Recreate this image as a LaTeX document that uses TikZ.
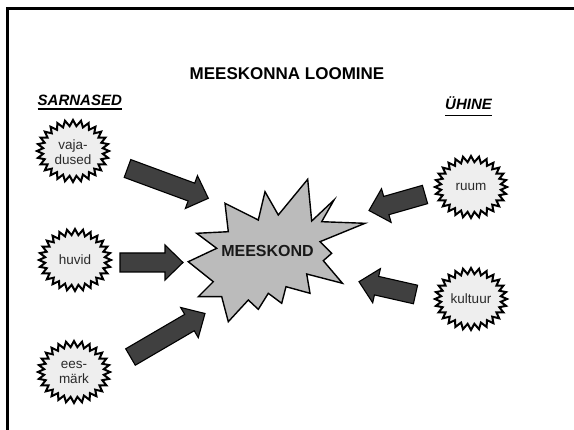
\documentclass[tikz,border=0pt]{standalone}
\usepackage{fontspec}
\setmainfont{Liberation Sans}
\usetikzlibrary{calc}
\definecolor{arrowgray}{HTML}{404040}
\definecolor{sealfill}{HTML}{EEEEEE}
\definecolor{starfill}{HTML}{BBBBBB}
\definecolor{labelgray}{HTML}{2A2A2A}

\newcommand{\sealat}[2]{%
  \draw[sealline] (#1+36,#2)
  \foreach \i in {1,...,55}
   { -- ({#1+(30+6*(1-mod(\i,2)))*cos(6.428571*\i)},{#2+(25+6*(1-mod(\i,2)))*sin(6.428571*\i)}) } -- cycle;}

\newcommand{\blockarrow}[2]{%
  \path ($(#2)!18pt!(#1)$) coordinate (neck);
  \draw[blockarrowstyle]
    ($(#1)!9.5pt!90:(#2)$) -- ($(neck)!9.5pt!90:(#2)$) -- ($(neck)!17.5pt!90:(#2)$)
    -- (#2) -- ($(neck)!17.5pt!-90:(#2)$) -- ($(neck)!9.5pt!-90:(#2)$)
    -- ($(#1)!9.5pt!-90:(#2)$) -- cycle;}

\begin{document}
\begin{tikzpicture}[x=1pt,y=-1pt,
  sealline/.style={draw=black, line width=2pt, fill=sealfill, line join=miter},
  seallabel/.style={align=center, inner sep=0pt, text=labelgray,
     font=\fontsize{13.5}{15}\selectfont},
  blockarrowstyle/.style={draw=black, line width=1.1pt, fill=arrowgray, line join=miter},
  starstyle/.style={draw=black, line width=1.4pt, fill=starfill, line join=miter},
  heading/.style={inner sep=0pt, font=\fontsize{15}{18}\selectfont\bfseries\itshape},
  uline/.style={line width=1.8pt}]
\useasboundingbox (0,0) rectangle (574,430);

% frame
\draw[line width=3pt, line join=miter] (7.5,430) -- (7.5,8.5) -- (574,8.5);

% title and headings
\node[inner sep=0pt, font=\fontsize{17}{20}\selectfont\bfseries] (title) at (287,74) {MEESKONNA LOOMINE};
\node[heading, anchor=base west] (sarn) at (37.5,105.5) {SARNASED};
\draw[uline] ([yshift=-3.5pt]sarn.base west) -- ([yshift=-3.5pt]sarn.base east);
\node[heading, anchor=base west] (uhine) at (445,110) {ÜHINE};
\draw[uline] ([yshift=-5.5pt]uhine.base west) -- ([yshift=-5.5pt]uhine.base east);

% seals
\sealat{73}{151}
\sealat{75}{260}
\sealat{74}{372}
\sealat{471}{187}
\sealat{471}{299}
\node[seallabel] (vaja) at (73,152) {vaja-\\dused};
\node[seallabel] (huvid) at (75,260) {huvid};
\node[seallabel] (ees) at (74,372) {ees-\\märk};
\node[seallabel] (ruum) at (471,187) {ruum};
\node[seallabel] (kultuur) at (471,299) {kultuur};

% central star
\draw[starstyle] (307.7,179.3) -- (311.7,221) -- (334,200) -- (321.7,221.7)
  -- (365,223.3) -- (320,241.7) -- (331.7,253.3) -- (323.3,260.7)
  -- (342.5,283.3) -- (306.7,274) -- (310,293.3) -- (286,286.7)
  -- (281.7,303.3) -- (268.3,293.3) -- (258.3,309.3) -- (248.3,300)
  -- (228.3,321.7) -- (221.7,296.7) -- (198.3,296.7) -- (213.3,281.7)
  -- (188.3,261.7) -- (216.7,248.3) -- (196.7,233.3) -- (228.3,231.7)
  -- (225,203.3) -- (258.3,220) -- (265,191.7) -- (278.3,215) -- cycle;
\node[inner sep=0pt, font=\fontsize{16}{18}\selectfont\bfseries, text=black!90] (team) at (267.5,251) {MEESKOND};

% arrow end points
\coordinate (vajaout) at (127.5,168.5);
\coordinate (vajain) at (208.3,198.3);
\coordinate (huvidout) at (120,262.5);
\coordinate (huvidin) at (183,262.5);
\coordinate (eesout) at (130.5,357);
\coordinate (eesin) at (205,313.5);
\coordinate (ruumout) at (425,194.5);
\coordinate (ruumin) at (369,210.5);
\coordinate (kultout) at (415.5,294.5);
\coordinate (kultin) at (359,281.7);

\blockarrow{vajaout}{vajain}
\blockarrow{huvidout}{huvidin}
\blockarrow{eesout}{eesin}
\blockarrow{ruumout}{ruumin}
\blockarrow{kultout}{kultin}
\end{tikzpicture}
\end{document}
